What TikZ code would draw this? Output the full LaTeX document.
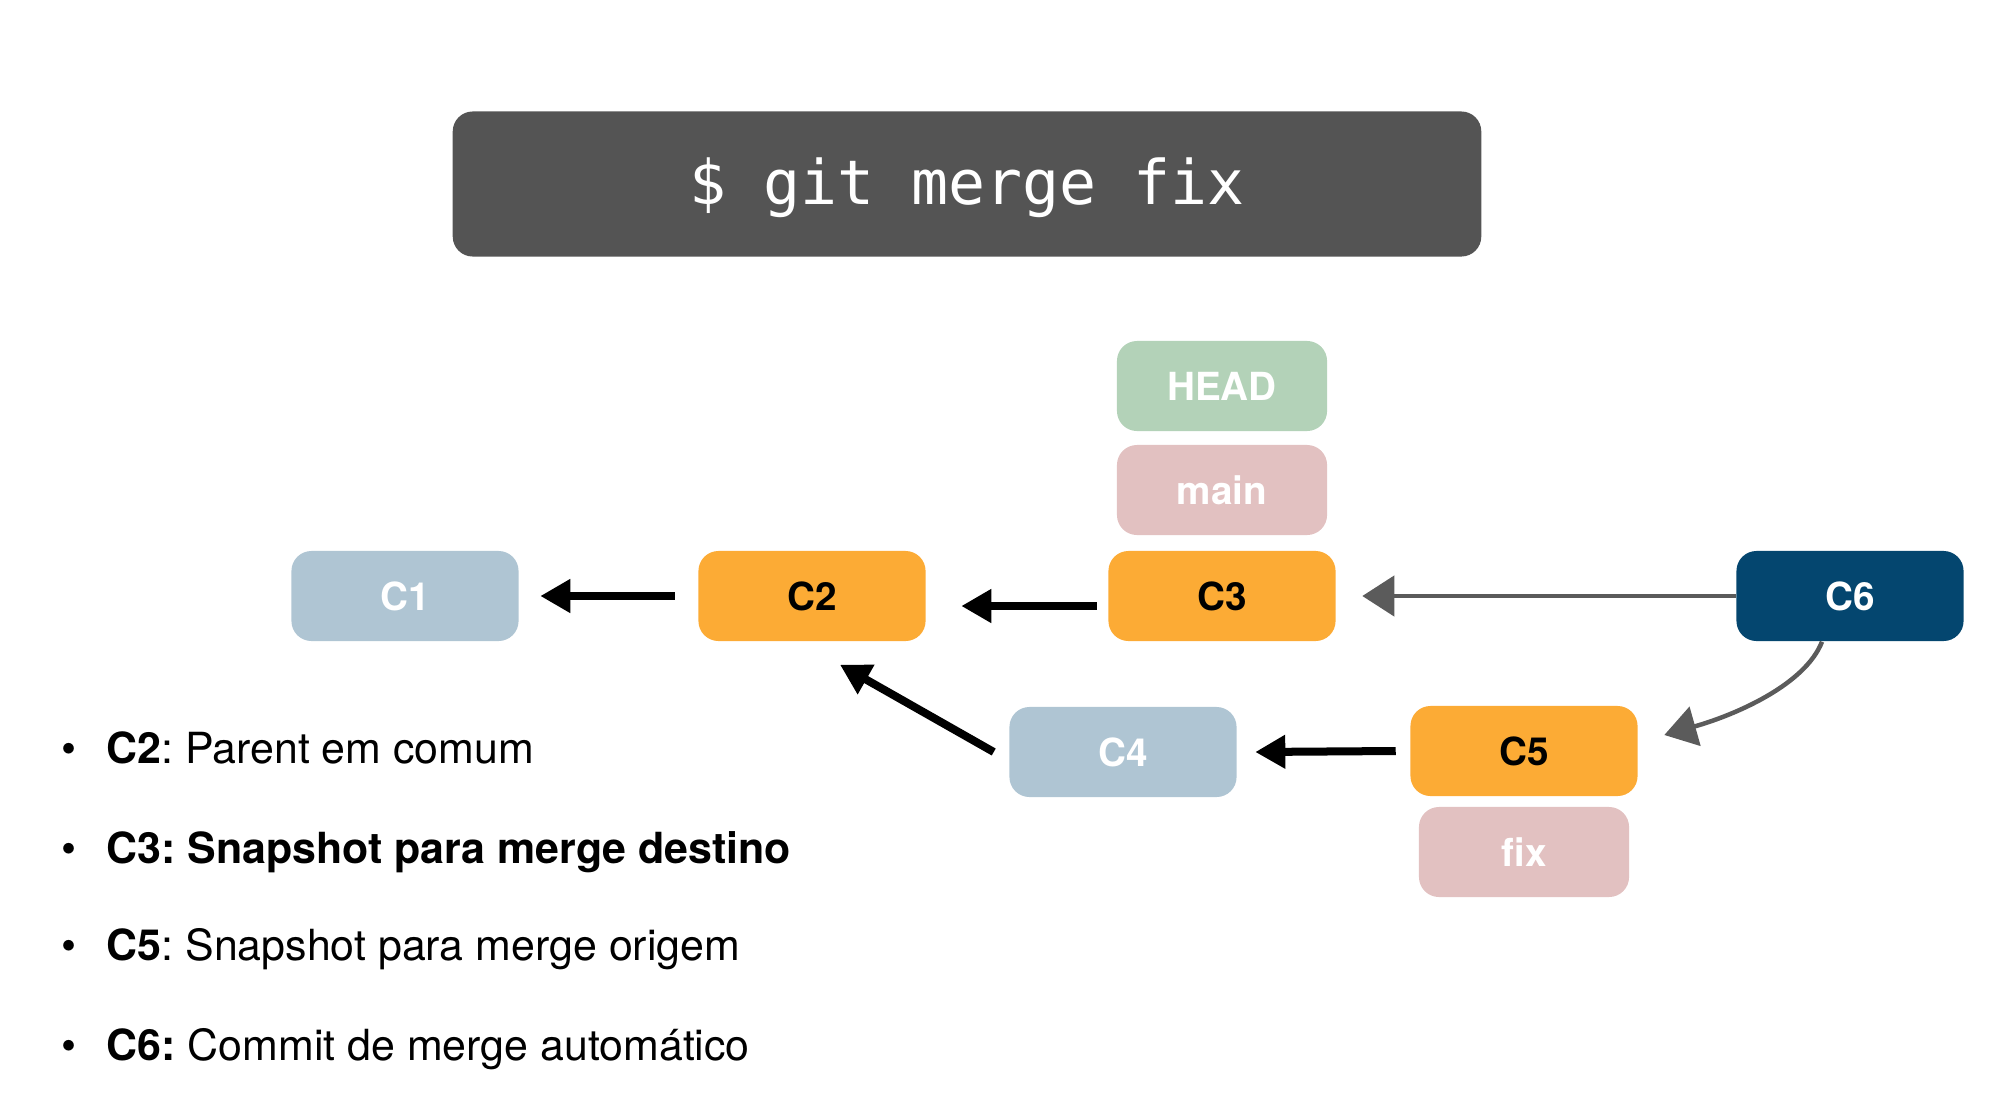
\documentclass[tikz,border=0pt]{standalone}
\usepackage{fontspec}
\setsansfont{TeX Gyre Heros}
\setmonofont{DejaVu Sans Mono}
\usetikzlibrary{arrows.meta}
\definecolor{titlegray}{HTML}{545454}
\definecolor{headgreen}{HTML}{B3D2B8}
\definecolor{branchpink}{HTML}{E2C1C1}
\definecolor{lightblue}{HTML}{AFC5D3}
\definecolor{commitorange}{HTML}{FCAB35}
\definecolor{darkblue}{HTML}{04466F}
\definecolor{arrowgray}{HTML}{5B5B5B}
\frenchspacing
\begin{document}
\begin{tikzpicture}[x=0.01cm,y=-0.01cm,
  box/.style={rounded corners=2mm, minimum width=2.27cm, minimum height=0.9cm, inner sep=0pt,
    font=\fontsize{11}{13}\selectfont\sffamily\bfseries},
  label/.style={box, minimum width=2.1cm, text=white},
  arr/.style={draw=black, line width=0.08cm, -{Triangle[length=3mm,width=3.2mm]}},
  garr/.style={draw=arrowgray, line width=0.045cm, -{Triangle[length=3.2mm,width=4mm]}},
  bullettext/.style={anchor=base west, inner sep=0pt, font=\fontsize{12.2}{14}\selectfont\sffamily},
  bulletdot/.style={anchor=base, inner sep=0pt, font=\fontsize{12.2}{14}\selectfont\sffamily}]
\useasboundingbox (0,0) rectangle (2000,1100);

\node[fill=titlegray, rounded corners=2mm, minimum width=10.28cm, minimum height=1.45cm, inner sep=0pt,
  text=white, font=\fontsize{17.5}{20}\selectfont\ttfamily] (title) at (967,184) {};
\node[text=white, font=\fontsize{17.5}{20}\selectfont\ttfamily, inner sep=0pt] (cmd) at (967,188) {\$ git merge fix};

\node[label, fill=headgreen] (head) at (1222,386) {HEAD};
\node[label, fill=branchpink] (main) at (1222,490) {main};

\node[box, fill=lightblue, text=white] (c1) at (405,596) {C1};
\node[box, fill=commitorange, text=black] (c2) at (812,596) {C2};
\node[box, fill=commitorange, text=black] (c3) at (1222,596) {C3};
\node[box, fill=darkblue, text=white] (c6) at (1850,596) {C6};
\node[box, fill=lightblue, text=white] (c4) at (1123,752) {C4};
\node[box, fill=commitorange, text=black] (c5) at (1524,751) {C5};
\node[label, fill=branchpink] (fix) at (1524,852) {fix};

\draw[arr] ([xshift=-0.23cm]c2.west) -- ([xshift=0.21cm]c1.east);
\draw[arr] ([xshift=-0.11cm,yshift=-0.1cm]c3.west) -- ([xshift=0.35cm,yshift=-0.1cm]c2.east);
\draw[arr] ([xshift=-0.15cm]c4.west) -- ([xshift=0.28cm,yshift=-0.23cm]c2.south);
\draw[arr] ([xshift=-0.14cm]c5.west) -- ([xshift=0.18cm]c4.east);

\draw[garr] (c6.west) -- ([xshift=0.26cm]c3.east);
\draw[garr] ([xshift=-0.28cm]c6.south) .. controls (1805,685) and (1735,715) .. ([xshift=0.26cm,yshift=0.16cm]c5.east);

\node[bulletdot] (d1) at (69,763) {•};
\node[bullettext] (t1) at (106,763) {\textbf{C2}: Parent em comum};
\node[bulletdot] (d2) at (69,863) {•};
\node[bullettext] (t2) at (106,863) {\textbf{C3: Snapshot para merge destino}};
\node[bulletdot] (d3) at (69,960) {•};
\node[bullettext] (t3) at (106,960) {\textbf{C5}: Snapshot para merge origem};
\node[bulletdot] (d4) at (69,1060) {•};
\node[bullettext] (t4) at (106,1060) {\textbf{C6:} Commit de merge automático};
\end{tikzpicture}
\end{document}
